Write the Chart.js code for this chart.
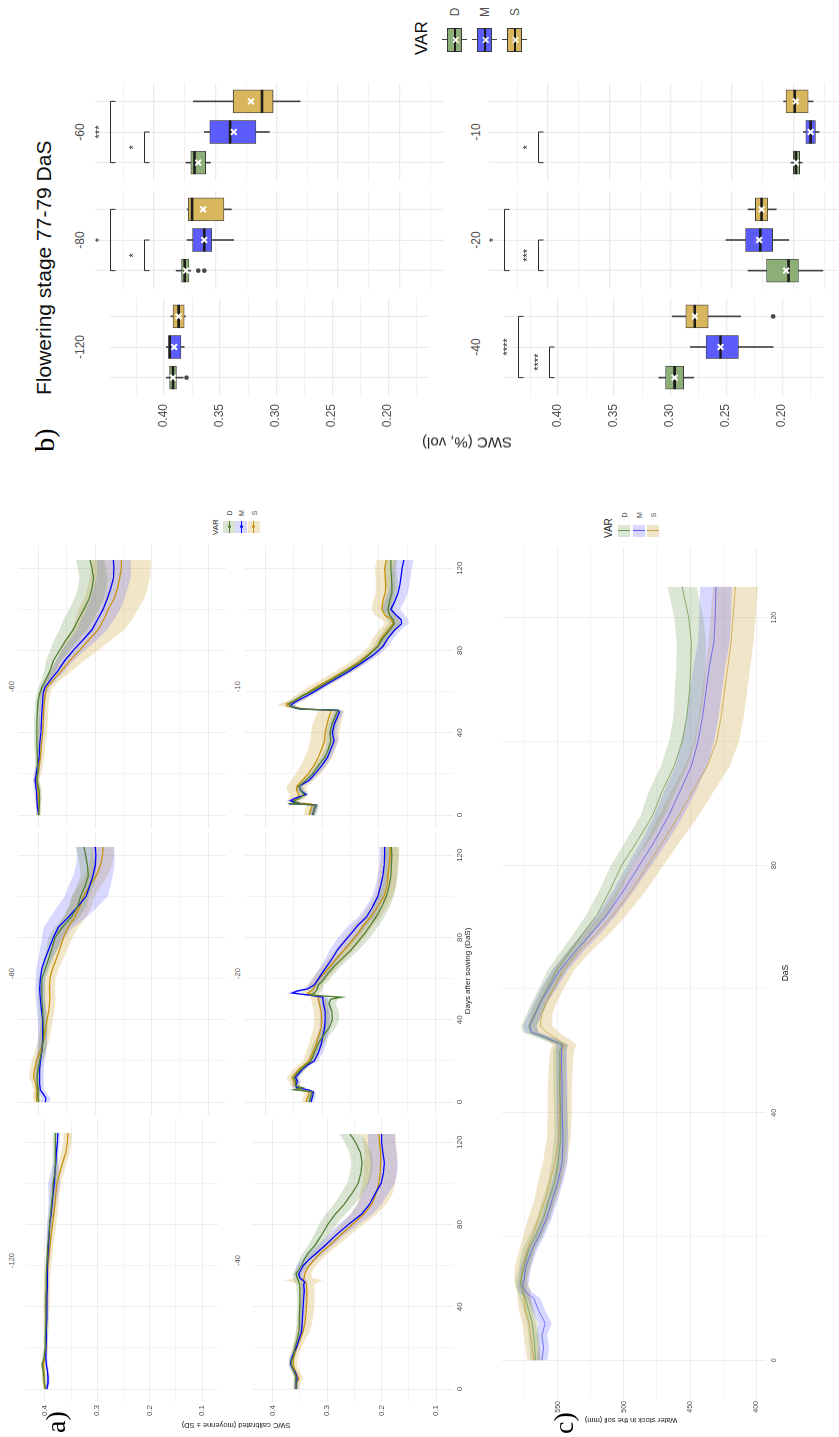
<!DOCTYPE html>
<html>
<head>
<meta charset="utf-8">
<title>Soil water content</title>
<script src="https://cdn.jsdelivr.net/npm/chart.js@4.4.1/dist/chart.umd.min.js"></script>
<style>
  html, body { margin: 0; padding: 0; background: #fff; }
  body { width: 839px; height: 1437px; overflow: hidden; position: relative; font-family: "Liberation Sans", Arial, sans-serif; }
  /* the figure is laid out landscape and turned a quarter turn */
  #fig { position: absolute; left: 0; top: 0; width: 1437px; height: 839px; transform-origin: 0 0; transform: translate(0, 1437px) rotate(-90deg); }
  #fig canvas, #fig .t, #fig .k { position: absolute; }
  .t { white-space: nowrap; line-height: 1; color: #4d4d4d; }
</style>
</head>
<body>
<div id="fig"></div>
<script>
// ---------- a) SWC time series, one panel per sowing offset ----------
const varNames = ['D', 'M', 'S'];
const dayTicks = [0, 20, 40, 60, 80, 100, 120];
const swcTicks = [0.1, 0.15, 0.2, 0.25, 0.3, 0.35, 0.4];

const days120 = [0, 3, 6, 9, 12, 15, 20, 25, 30, 35, 40, 45, 50, 55, 60, 65, 70, 75, 80, 85, 90, 95, 100, 105, 110, 115, 120, 124.5];
const swcD120 = [0.399, 0.401, 0.402, 0.403, 0.405, 0.402, 0.399, 0.399, 0.398, 0.398, 0.398, 0.398, 0.397, 0.397, 0.396, 0.395, 0.394, 0.392, 0.391, 0.389, 0.387, 0.385, 0.384, 0.381, 0.380, 0.380, 0.380, 0.380];
const swcM120 = [0.396, 0.394, 0.394, 0.395, 0.397, 0.398, 0.398, 0.397, 0.397, 0.396, 0.396, 0.396, 0.395, 0.395, 0.395, 0.394, 0.393, 0.392, 0.391, 0.388, 0.386, 0.384, 0.382, 0.381, 0.379, 0.378, 0.376, 0.375];
const swcS120 = [0.399, 0.401, 0.401, 0.402, 0.403, 0.400, 0.398, 0.398, 0.397, 0.397, 0.397, 0.396, 0.396, 0.395, 0.394, 0.392, 0.390, 0.388, 0.385, 0.383, 0.381, 0.379, 0.377, 0.372, 0.366, 0.360, 0.357, 0.356];
const sdD120 = [0.003, 0.003, 0.003, 0.003, 0.003, 0.003, 0.003, 0.003, 0.003, 0.003, 0.003, 0.003, 0.003, 0.003, 0.003, 0.003, 0.003, 0.004, 0.004, 0.004, 0.004, 0.005, 0.005, 0.005, 0.005, 0.005, 0.005, 0.005];
const sdM120 = [0.003, 0.003, 0.003, 0.003, 0.003, 0.003, 0.003, 0.003, 0.003, 0.003, 0.003, 0.003, 0.003, 0.003, 0.003, 0.004, 0.004, 0.005, 0.005, 0.006, 0.007, 0.009, 0.012, 0.008, 0.005, 0.004, 0.004, 0.004];
const sdS120 = [0.004, 0.004, 0.004, 0.004, 0.004, 0.004, 0.004, 0.004, 0.005, 0.005, 0.006, 0.006, 0.006, 0.006, 0.006, 0.006, 0.006, 0.007, 0.007, 0.007, 0.007, 0.007, 0.007, 0.008, 0.008, 0.008, 0.008, 0.008];

const days80 = [0, 2, 4, 6, 9, 12, 16, 20, 25, 30, 35, 40, 45, 50, 55, 60, 65, 70, 75, 80, 85, 90, 95, 100, 105, 110, 115, 120, 124];
const swcD80 = [0.400, 0.401, 0.401, 0.401, 0.402, 0.403, 0.401, 0.398, 0.394, 0.392, 0.391, 0.392, 0.393, 0.394, 0.394, 0.394, 0.388, 0.382, 0.376, 0.371, 0.358, 0.342, 0.331, 0.326, 0.318, 0.312, 0.314, 0.317, 0.320];
const swcM80 = [0.388, 0.387, 0.392, 0.397, 0.398, 0.398, 0.398, 0.397, 0.394, 0.393, 0.393, 0.393, 0.395, 0.397, 0.398, 0.397, 0.394, 0.388, 0.381, 0.374, 0.365, 0.347, 0.331, 0.316, 0.310, 0.304, 0.300, 0.299, 0.300];
const swcS80 = [0.403, 0.404, 0.404, 0.403, 0.405, 0.409, 0.407, 0.404, 0.397, 0.391, 0.388, 0.385, 0.382, 0.380, 0.381, 0.380, 0.375, 0.368, 0.362, 0.356, 0.348, 0.336, 0.327, 0.321, 0.310, 0.298, 0.291, 0.287, 0.286];
const sdD80 = [0.004, 0.004, 0.004, 0.004, 0.004, 0.005, 0.005, 0.006, 0.007, 0.007, 0.007, 0.007, 0.006, 0.006, 0.006, 0.006, 0.007, 0.008, 0.010, 0.012, 0.013, 0.014, 0.015, 0.015, 0.015, 0.014, 0.014, 0.014, 0.014];
const sdM80 = [0.008, 0.008, 0.007, 0.007, 0.007, 0.007, 0.007, 0.008, 0.008, 0.008, 0.008, 0.008, 0.008, 0.008, 0.008, 0.008, 0.010, 0.012, 0.016, 0.020, 0.026, 0.032, 0.036, 0.038, 0.037, 0.035, 0.034, 0.033, 0.033];
const sdS80 = [0.006, 0.006, 0.006, 0.006, 0.007, 0.008, 0.008, 0.008, 0.009, 0.010, 0.010, 0.010, 0.010, 0.010, 0.010, 0.010, 0.011, 0.012, 0.014, 0.016, 0.018, 0.020, 0.020, 0.020, 0.020, 0.020, 0.020, 0.020, 0.020];

const days60 = [0, 4, 8, 12, 17, 22, 28, 34, 40, 45, 50, 55, 59, 62, 66, 70, 75, 80, 85, 90, 95, 100, 105, 110, 115, 120, 124];
const swcD60 = [0.400, 0.399, 0.398, 0.399, 0.403, 0.401, 0.402, 0.403, 0.403, 0.403, 0.402, 0.401, 0.398, 0.394, 0.387, 0.380, 0.374, 0.363, 0.352, 0.339, 0.330, 0.320, 0.311, 0.306, 0.303, 0.306, 0.309];
const swcM60 = [0.400, 0.402, 0.403, 0.404, 0.406, 0.403, 0.399, 0.398, 0.396, 0.395, 0.394, 0.393, 0.392, 0.389, 0.378, 0.366, 0.354, 0.339, 0.322, 0.306, 0.296, 0.286, 0.279, 0.273, 0.268, 0.267, 0.268];
const swcS60 = [0.400, 0.400, 0.401, 0.401, 0.404, 0.400, 0.397, 0.395, 0.393, 0.392, 0.391, 0.390, 0.388, 0.386, 0.373, 0.360, 0.345, 0.328, 0.312, 0.295, 0.285, 0.277, 0.267, 0.261, 0.257, 0.254, 0.254];
const sdD60 = [0.003, 0.003, 0.003, 0.004, 0.004, 0.004, 0.004, 0.005, 0.005, 0.005, 0.005, 0.005, 0.005, 0.006, 0.008, 0.010, 0.013, 0.017, 0.021, 0.024, 0.026, 0.026, 0.026, 0.025, 0.025, 0.025, 0.025];
const sdM60 = [0.003, 0.003, 0.003, 0.004, 0.004, 0.004, 0.004, 0.004, 0.005, 0.005, 0.005, 0.005, 0.006, 0.008, 0.010, 0.012, 0.015, 0.020, 0.024, 0.027, 0.029, 0.030, 0.030, 0.030, 0.030, 0.030, 0.030];
const sdS60 = [0.004, 0.004, 0.005, 0.005, 0.005, 0.006, 0.007, 0.007, 0.008, 0.008, 0.008, 0.008, 0.009, 0.010, 0.013, 0.018, 0.025, 0.033, 0.040, 0.046, 0.050, 0.052, 0.053, 0.053, 0.053, 0.052, 0.052];

const days40 = [0, 3, 5, 6, 8, 10, 12, 14, 16, 20, 24, 28, 32, 36, 40, 44, 48, 51, 52, 53, 54, 56, 58, 60, 63, 66, 70, 75, 80, 85, 90, 95, 100, 105, 110, 115, 120, 124];
const swcD40 = [0.357, 0.357, 0.358, 0.357, 0.360, 0.363, 0.366, 0.365, 0.362, 0.359, 0.355, 0.352, 0.351, 0.351, 0.350, 0.350, 0.350, 0.351, 0.352, 0.353, 0.355, 0.357, 0.352, 0.347, 0.342, 0.335, 0.322, 0.310, 0.299, 0.285, 0.268, 0.255, 0.243, 0.238, 0.236, 0.239, 0.248, 0.258];
const swcM40 = [0.357, 0.357, 0.355, 0.356, 0.358, 0.363, 0.367, 0.366, 0.364, 0.357, 0.352, 0.347, 0.346, 0.345, 0.344, 0.343, 0.342, 0.343, 0.341, 0.345, 0.350, 0.352, 0.348, 0.344, 0.333, 0.320, 0.303, 0.283, 0.261, 0.237, 0.222, 0.212, 0.201, 0.197, 0.195, 0.198, 0.200, 0.200];
const swcS40 = [0.357, 0.356, 0.352, 0.353, 0.357, 0.360, 0.362, 0.362, 0.361, 0.356, 0.350, 0.344, 0.341, 0.339, 0.338, 0.337, 0.337, 0.338, 0.340, 0.344, 0.342, 0.341, 0.338, 0.333, 0.323, 0.313, 0.295, 0.275, 0.254, 0.233, 0.218, 0.210, 0.205, 0.203, 0.202, 0.202, 0.204, 0.205];
const sdD40 = [0.004, 0.004, 0.004, 0.004, 0.004, 0.004, 0.004, 0.004, 0.004, 0.004, 0.005, 0.005, 0.005, 0.005, 0.005, 0.005, 0.006, 0.006, 0.008, 0.008, 0.008, 0.007, 0.007, 0.008, 0.009, 0.010, 0.012, 0.014, 0.016, 0.018, 0.019, 0.020, 0.020, 0.020, 0.020, 0.020, 0.020, 0.020];
const sdM40 = [0.004, 0.004, 0.004, 0.004, 0.004, 0.004, 0.004, 0.004, 0.004, 0.004, 0.004, 0.004, 0.005, 0.005, 0.005, 0.005, 0.005, 0.006, 0.006, 0.008, 0.008, 0.008, 0.010, 0.012, 0.013, 0.014, 0.014, 0.015, 0.018, 0.020, 0.022, 0.024, 0.025, 0.025, 0.025, 0.025, 0.025, 0.025];
const sdS40 = [0.006, 0.006, 0.008, 0.008, 0.007, 0.007, 0.007, 0.007, 0.007, 0.008, 0.010, 0.012, 0.013, 0.014, 0.014, 0.014, 0.014, 0.014, 0.025, 0.035, 0.015, 0.012, 0.012, 0.012, 0.013, 0.014, 0.016, 0.018, 0.020, 0.024, 0.027, 0.030, 0.030, 0.030, 0.030, 0.030, 0.030, 0.030];

const days20 = [0, 3, 5, 6, 7, 8, 10, 12, 14, 16, 18, 20, 24, 28, 32, 36, 40, 44, 48, 50, 51, 52, 53, 54, 55, 57, 59, 62, 66, 70, 74, 78, 82, 86, 90, 95, 100, 105, 110, 115, 120, 124];
const swcD20 = [0.323, 0.320, 0.318, 0.350, 0.335, 0.347, 0.347, 0.350, 0.344, 0.337, 0.329, 0.320, 0.314, 0.308, 0.299, 0.288, 0.282, 0.283, 0.288, 0.285, 0.267, 0.320, 0.314, 0.311, 0.309, 0.307, 0.299, 0.291, 0.279, 0.264, 0.249, 0.237, 0.225, 0.215, 0.205, 0.195, 0.187, 0.182, 0.179, 0.178, 0.177, 0.178];
const swcM20 = [0.320, 0.317, 0.316, 0.325, 0.345, 0.347, 0.344, 0.347, 0.341, 0.335, 0.326, 0.314, 0.307, 0.302, 0.299, 0.296, 0.295, 0.295, 0.298, 0.299, 0.299, 0.323, 0.353, 0.344, 0.326, 0.314, 0.309, 0.302, 0.292, 0.282, 0.273, 0.261, 0.249, 0.237, 0.222, 0.211, 0.202, 0.197, 0.193, 0.191, 0.190, 0.190];
const swcS20 = [0.329, 0.325, 0.323, 0.340, 0.345, 0.347, 0.350, 0.353, 0.347, 0.341, 0.332, 0.323, 0.317, 0.311, 0.307, 0.302, 0.301, 0.302, 0.305, 0.307, 0.307, 0.314, 0.326, 0.320, 0.315, 0.313, 0.309, 0.299, 0.286, 0.274, 0.261, 0.249, 0.237, 0.227, 0.214, 0.202, 0.191, 0.186, 0.184, 0.182, 0.180, 0.180];
const sdD20 = [0.005, 0.005, 0.005, 0.006, 0.006, 0.006, 0.006, 0.006, 0.006, 0.006, 0.006, 0.007, 0.008, 0.009, 0.010, 0.011, 0.012, 0.012, 0.012, 0.012, 0.012, 0.012, 0.010, 0.010, 0.010, 0.010, 0.010, 0.011, 0.012, 0.013, 0.014, 0.015, 0.015, 0.015, 0.015, 0.014, 0.013, 0.012, 0.012, 0.012, 0.012, 0.012];
const sdM20 = [0.005, 0.005, 0.005, 0.006, 0.006, 0.006, 0.006, 0.006, 0.006, 0.006, 0.006, 0.007, 0.008, 0.009, 0.009, 0.009, 0.009, 0.009, 0.009, 0.009, 0.009, 0.010, 0.010, 0.010, 0.010, 0.010, 0.010, 0.010, 0.011, 0.012, 0.014, 0.016, 0.017, 0.016, 0.014, 0.012, 0.010, 0.009, 0.009, 0.009, 0.009, 0.009];
const sdS20 = [0.008, 0.008, 0.008, 0.008, 0.008, 0.008, 0.009, 0.010, 0.010, 0.010, 0.010, 0.011, 0.012, 0.013, 0.013, 0.013, 0.013, 0.013, 0.013, 0.013, 0.013, 0.013, 0.012, 0.012, 0.012, 0.012, 0.012, 0.013, 0.014, 0.015, 0.016, 0.017, 0.017, 0.017, 0.017, 0.016, 0.016, 0.016, 0.016, 0.016, 0.016, 0.016];

const days10 = [0, 3, 5, 5.5, 6, 7, 8, 10, 12, 14, 17, 20, 24, 28, 32, 36, 40, 44, 48, 50, 51, 51.5, 52, 53, 54, 56, 58, 60, 63, 66, 70, 74, 78, 82, 86, 90, 93, 95, 97, 100, 104, 108, 112, 116, 120, 124];
const swcD10 = [0.317, 0.314, 0.311, 0.359, 0.344, 0.350, 0.341, 0.332, 0.338, 0.341, 0.329, 0.317, 0.307, 0.296, 0.289, 0.285, 0.286, 0.283, 0.277, 0.274, 0.272, 0.338, 0.344, 0.356, 0.359, 0.347, 0.335, 0.320, 0.301, 0.282, 0.258, 0.234, 0.217, 0.202, 0.193, 0.181, 0.173, 0.175, 0.181, 0.184, 0.181, 0.177, 0.177, 0.178, 0.179, 0.179];
const swcM10 = [0.317, 0.314, 0.311, 0.359, 0.344, 0.356, 0.350, 0.329, 0.338, 0.341, 0.323, 0.313, 0.301, 0.291, 0.285, 0.279, 0.282, 0.279, 0.273, 0.270, 0.272, 0.338, 0.347, 0.356, 0.353, 0.341, 0.327, 0.314, 0.296, 0.277, 0.252, 0.230, 0.209, 0.193, 0.184, 0.172, 0.160, 0.161, 0.169, 0.179, 0.172, 0.166, 0.163, 0.161, 0.159, 0.156];
const swcS10 = [0.323, 0.320, 0.317, 0.320, 0.350, 0.350, 0.345, 0.341, 0.345, 0.345, 0.335, 0.325, 0.315, 0.307, 0.301, 0.296, 0.295, 0.292, 0.288, 0.285, 0.284, 0.332, 0.341, 0.362, 0.363, 0.344, 0.335, 0.323, 0.306, 0.286, 0.261, 0.238, 0.219, 0.203, 0.196, 0.184, 0.175, 0.178, 0.189, 0.195, 0.193, 0.189, 0.188, 0.189, 0.190, 0.187];
const sdD10 = [0.006, 0.006, 0.006, 0.006, 0.006, 0.006, 0.006, 0.006, 0.006, 0.006, 0.006, 0.007, 0.007, 0.007, 0.007, 0.007, 0.007, 0.007, 0.007, 0.007, 0.007, 0.008, 0.008, 0.008, 0.008, 0.008, 0.008, 0.008, 0.008, 0.008, 0.008, 0.008, 0.008, 0.008, 0.009, 0.010, 0.010, 0.010, 0.010, 0.010, 0.010, 0.010, 0.010, 0.010, 0.010, 0.010];
const sdM10 = [0.005, 0.005, 0.005, 0.006, 0.006, 0.006, 0.006, 0.006, 0.006, 0.006, 0.006, 0.007, 0.007, 0.007, 0.007, 0.007, 0.007, 0.007, 0.007, 0.007, 0.007, 0.008, 0.008, 0.008, 0.008, 0.008, 0.008, 0.008, 0.008, 0.008, 0.008, 0.009, 0.010, 0.010, 0.010, 0.011, 0.012, 0.013, 0.015, 0.016, 0.017, 0.017, 0.017, 0.017, 0.017, 0.017];
const sdS10 = [0.010, 0.010, 0.010, 0.010, 0.010, 0.012, 0.014, 0.016, 0.017, 0.018, 0.020, 0.022, 0.023, 0.024, 0.024, 0.025, 0.025, 0.025, 0.024, 0.023, 0.022, 0.016, 0.015, 0.014, 0.014, 0.014, 0.014, 0.014, 0.015, 0.015, 0.015, 0.015, 0.015, 0.015, 0.015, 0.015, 0.015, 0.016, 0.018, 0.018, 0.017, 0.017, 0.017, 0.017, 0.017, 0.017];

// ---------- b) SWC at flowering, boxplot statistics (D, M, S per panel) ----------
const boxFacets = ['-120', '-80', '-60', '-40', '-20', '-10'];
const boxLow  = [[0.383, 0.382, 0.381], [0.370, 0.335, 0.337], [0.354, 0.306, 0.281], [0.279, 0.208, 0.237], [0.176, 0.204, 0.214], [0.193, 0.179, 0.184]];
const boxQ1   = [[0.389, 0.385, 0.382], [0.3715, 0.353, 0.343], [0.358, 0.317, 0.303], [0.288, 0.239, 0.266], [0.196, 0.217, 0.221], [0.195, 0.182, 0.188]];
const boxMed  = [[0.392, 0.395, 0.387], [0.375, 0.359, 0.369], [0.367, 0.338, 0.312], [0.296, 0.255, 0.278], [0.204, 0.227, 0.226], [0.198, 0.186, 0.199]];
const boxQ3   = [[0.395, 0.396, 0.392], [0.3775, 0.3685, 0.372], [0.370, 0.3545, 0.3355], [0.304, 0.268, 0.286], [0.222, 0.239, 0.231], [0.200, 0.190, 0.206]];
const boxHigh = [[0.398, 0.398, 0.394], [0.382, 0.373, 0.373], [0.374, 0.359, 0.368], [0.310, 0.282, 0.298], [0.237, 0.255, 0.237], [0.202, 0.192, 0.208]];
const boxMean = [[0.392, 0.391, 0.387], [0.374, 0.359, 0.360], [0.364, 0.335, 0.321], [0.296, 0.255, 0.278], [0.206, 0.228, 0.226], [0.198, 0.186, 0.198]];
const boxOut  = [[[0.380], [], []], [[0.364, 0.359], [], []], [[], [], []], [[], [], [0.208]], [[], [], []], [[], [], []]];
const sigDM = ['', '*', '*', '****', '***', '*'];
const sigDS = ['', '*', '***', '****', '*', ''];
const boxTicks = [0.175, 0.2, 0.225, 0.25, 0.275, 0.3, 0.325, 0.35, 0.375, 0.4, 0.425];

// ---------- c) water stock in the soil (mm) ----------
const daysC = [0, 2, 4, 6, 8, 10, 11, 12, 13, 15, 18, 20, 23, 26, 29, 32, 36, 40, 44, 48, 50, 51, 52, 53, 54, 56, 58, 60, 63, 66, 69, 72, 76, 80, 84, 88, 92, 96, 100, 104, 108, 112, 116, 120, 125];
const stockD = [566.9, 567.4, 568.1, 569.3, 571.8, 574.3, 576.7, 577.9, 577.9, 575.5, 571.8, 566.9, 560.7, 556.6, 552.1, 549.7, 547.7, 547.7, 548.5, 548.5, 548.5, 546.7, 558.3, 570.6, 571.8, 567.4, 563.2, 558.3, 550.9, 541.0, 531.0, 520.2, 510.5, 501.7, 489.5, 478.4, 471.0, 462.0, 456.0, 452.5, 450.5, 449.5, 449.0, 451.0, 456.0];
const stockM = [562.0, 560.7, 562.0, 559.5, 564.4, 568.1, 574.3, 576.7, 575.5, 574.3, 569.3, 564.4, 558.3, 554.1, 549.7, 546.7, 546.0, 546.7, 546.7, 547.2, 547.2, 546.7, 557.1, 569.3, 571.3, 566.9, 562.5, 557.1, 548.5, 537.0, 524.5, 512.8, 500.0, 488.2, 476.5, 466.1, 457.5, 449.0, 444.0, 440.5, 438.0, 435.5, 432.0, 431.0, 430.4];
const stockS = [568.1, 569.3, 570.6, 571.8, 574.3, 575.5, 575.5, 576.7, 577.9, 576.7, 573.0, 569.3, 564.4, 559.5, 555.8, 552.1, 549.2, 548.5, 548.5, 547.7, 546.7, 544.8, 550.9, 558.3, 563.2, 562.0, 558.3, 553.4, 546.0, 534.0, 520.5, 507.9, 494.0, 482.1, 470.0, 458.7, 448.0, 437.0, 430.0, 426.5, 424.0, 421.5, 419.0, 417.5, 415.7];
const sdStockD = [4, 4, 4, 4, 4, 4, 4, 4, 4, 4, 5, 5, 5, 5, 5, 5, 5, 5, 5, 5, 5, 5, 6, 6, 6, 6, 6, 6, 7, 7, 7, 8, 8, 8, 9, 9, 10, 10, 10, 10, 11, 11, 11, 11, 11];
const sdStockM = [4, 4, 4, 5, 5, 5, 5, 4, 4, 4, 4, 4, 4, 4, 4, 4, 4, 4, 4, 4, 4, 4, 5, 5, 5, 5, 5, 6, 6, 6, 7, 7, 8, 9, 10, 11, 12, 12, 12, 12, 12, 12, 12, 12, 12];
const sdStockS = [5, 5, 5, 5, 5, 5, 5, 5, 5, 6, 6, 7, 8, 8, 9, 9, 9, 9, 9, 9, 9, 9, 9, 9, 9, 8, 8, 8, 8, 9, 10, 10, 11, 12, 13, 15, 16, 17, 17, 17, 17, 17, 17, 17, 17];
const stockTicks = [400, 425, 450, 475, 500, 525, 550, 575];

// ---------- helpers ----------
const fig = document.getElementById('fig');
const SANS = '"Liberation Sans", Arial, sans-serif';
const SERIF = '"Liberation Serif", "Times New Roman", serif';
const GRID = '#ebebeb';
Chart.defaults.font.family = SANS;

function text(str, x, y, o) {
  o = o || {};
  const d = document.createElement('div');
  d.className = 't';
  d.textContent = str;
  d.style.left = x + 'px';
  d.style.top = y + 'px';
  d.style.fontSize = (o.size || 8) + 'px';
  if (o.color) d.style.color = o.color;
  if (o.font) d.style.fontFamily = o.font;
  if (o.weight) d.style.fontWeight = o.weight;
  const ax = o.anchor === 'start' ? '0' : (o.anchor === 'end' ? '-100%' : '-50%');
  d.style.transform = 'translate(' + ax + ', -50%)' + (o.rot ? ' rotate(' + o.rot + 'deg)' : '');
  fig.appendChild(d);
  return d;
}

function block(x, y, w, h, css) {
  const d = document.createElement('div');
  d.className = 'k';
  Object.assign(d.style, { left: x + 'px', top: y + 'px', width: w + 'px', height: h + 'px', boxSizing: 'border-box' }, css || {});
  fig.appendChild(d);
  return d;
}

function canvas(x, y, w, h) {
  const c = document.createElement('canvas');
  c.width = w; c.height = h;
  c.style.left = x + 'px'; c.style.top = y + 'px';
  c.style.width = w + 'px'; c.style.height = h + 'px';
  fig.appendChild(c);
  return c;
}

function near(v, step) { return Math.abs(v / step - Math.round(v / step)) < 1e-6; }

function axes(o) {
  return {
    x: {
      type: 'linear', min: o.xr[0], max: o.xr[1], offset: false,
      afterBuildTicks: s => { s.ticks = o.xTicks.map(v => ({ value: v })); },
      afterFit: s => { s.height = o.bottom; },
      grid: { color: GRID, offset: false, drawTicks: false,
              lineWidth: c => (c.tick && near(c.tick.value, o.xMajor)) ? o.gw : o.gw * 0.6 },
      border: { display: false },
      ticks: { display: o.bottom > 0, autoSkip: false, maxRotation: 0, padding: o.xPad, color: '#4d4d4d',
               font: { size: o.fs }, callback: v => near(v, o.xMajor) ? String(v) : '' }
    },
    y: {
      min: o.yr[0], max: o.yr[1],
      afterBuildTicks: s => { s.ticks = o.yTicks.map(v => ({ value: v })); },
      afterFit: s => { s.width = o.left; },
      grid: { color: GRID, drawTicks: false,
              lineWidth: c => (c.tick && near(c.tick.value, o.yMajor)) ? o.gw : o.gw * 0.6 },
      border: { display: false },
      ticks: { display: o.left > 0, autoSkip: false, padding: o.yPad, color: '#4d4d4d',
               font: { size: o.fs }, callback: v => near(v, o.yMajor) ? o.yFmt(v) : '' }
    }
  };
}

const baseOpts = {
  responsive: false, animation: false, devicePixelRatio: 1, events: [],
  layout: { padding: 0, autoPadding: false },
  plugins: { legend: { display: false }, tooltip: { enabled: false }, title: { display: false } }
};

// mean line with a +/- SD ribbon for D, M and S
function ribbonChart(rect, days, means, sds, o) {
  const cv = canvas(rect[0] - o.left, rect[1], rect[2] + o.left, rect[3] + o.bottom);
  const datasets = [];
  means.forEach((m, i) => {
    datasets.push({ data: days.map((d, j) => ({ x: d, y: m[j] + sds[i][j] })), fill: '+1',
      backgroundColor: o.bands[i], borderColor: 'transparent', borderWidth: 0, pointRadius: 0, order: 2 });
    datasets.push({ data: days.map((d, j) => ({ x: d, y: m[j] - sds[i][j] })), fill: false,
      borderColor: 'transparent', borderWidth: 0, pointRadius: 0, order: 2 });
  });
  means.forEach((m, i) => {
    datasets.push({ data: days.map((d, j) => ({ x: d, y: m[j] })), fill: false,
      borderColor: o.lines[i], borderWidth: o.lw, pointRadius: 0, tension: 0, order: 1 });
  });
  new Chart(cv, { type: 'line', data: { datasets }, options: Object.assign({}, baseOpts, { scales: axes(o) }) });
}

// significance brackets drawn over a boxplot panel
const bracketPlugin = {
  id: 'brackets',
  afterDatasetsDraw(chart, args, opts) {
    const { ctx, scales: { x, y } } = chart;
    ctx.save();
    ctx.strokeStyle = '#2a2a2a';
    ctx.fillStyle = '#2a2a2a';
    ctx.lineWidth = 1;
    ctx.font = '11px ' + SANS;
    ctx.textAlign = 'center';
    ctx.textBaseline = 'alphabetic';
    (opts.items || []).forEach(b => {
      const x1 = x.getPixelForValue(b.from), x2 = x.getPixelForValue(b.to);
      const yy = Math.round(y.getPixelForValue(b.level)) + 0.5;
      ctx.beginPath();
      ctx.moveTo(x1, yy + 5); ctx.lineTo(x1, yy); ctx.lineTo(x2, yy); ctx.lineTo(x2, yy + 5);
      ctx.stroke();
      ctx.fillText(b.label, (x1 + x2) / 2, yy - 8);
    });
    ctx.restore();
  }
};

const boxFill = ['rgb(141,174,118)', 'rgb(92,92,252)', 'rgb(216,182,94)'];

function boxChart(rect, f, o) {
  const cv = canvas(rect[0] - o.left, rect[1], rect[2] + o.left, rect[3]);
  const pos = [1, 2, 3];
  const outliers = [];
  pos.forEach((p, i) => boxOut[f][i].forEach(v => outliers.push({ x: p, y: v })));
  const items = [];
  if (sigDS[f]) items.push({ from: 1, to: 3, level: 0.4355, label: sigDS[f] });
  if (sigDM[f]) items.push({ from: 1, to: 2, level: 0.408, label: sigDM[f] });
  const datasets = [
    { type: 'bar', data: pos.map((p, i) => ({ x: p, y: [boxLow[f][i], boxHigh[f][i]] })),
      backgroundColor: '#444', barThickness: 1, grouped: false, order: 5 },
    { type: 'bar', data: pos.map((p, i) => ({ x: p, y: [boxQ1[f][i], boxQ3[f][i]] })),
      backgroundColor: boxFill, borderColor: '#3a3a3a', borderWidth: 0.8, borderSkipped: false,
      barThickness: 23, grouped: false, order: 4 },
    { type: 'line', showLine: false, data: pos.map((p, i) => ({ x: p, y: boxMed[f][i] })),
      pointStyle: 'line', pointRadius: 11.5, pointBorderWidth: 2.6, pointBorderColor: '#1c1c1c', order: 3 },
    { type: 'line', showLine: false, data: pos.map((p, i) => ({ x: p, y: boxMean[f][i] })),
      pointStyle: 'crossRot', pointRadius: 4, pointBorderWidth: 2, pointBorderColor: '#ffffff', order: 2 },
    { type: 'line', showLine: false, data: outliers,
      pointStyle: 'circle', pointRadius: 2.3, pointBackgroundColor: '#474747', pointBorderWidth: 0, order: 1 }
  ];
  const opts = Object.assign({}, baseOpts, {
    scales: axes(o),
    plugins: Object.assign({}, baseOpts.plugins, { brackets: { items } })
  });
  new Chart(cv, { type: 'bar', data: { datasets }, options: opts, plugins: [bracketPlugin] });
}

// ---------- panel a ----------
const aCols = [35, 322, 609], aRows = [18, 245], aW = 283, aH = 208;
const aSeries = [
  ['-120', days120, [swcD120, swcM120, swcS120], [sdD120, sdM120, sdS120]],
  ['-80', days80, [swcD80, swcM80, swcS80], [sdD80, sdM80, sdS80]],
  ['-60', days60, [swcD60, swcM60, swcS60], [sdD60, sdM60, sdS60]],
  ['-40', days40, [swcD40, swcM40, swcS40], [sdD40, sdM40, sdS40]],
  ['-20', days20, [swcD20, swcM20, swcS20], [sdD20, sdM20, sdS20]],
  ['-10', days10, [swcD10, swcM10, swcS10], [sdD10, sdM10, sdS10]]
];
const aLines = ['#4f7d33', '#0000ff', '#c8930c'];
const aBands = ['rgba(112,150,84,0.26)', 'rgba(95,95,255,0.24)', 'rgba(214,178,88,0.32)'];

aSeries.forEach((s, k) => {
  const r = Math.floor(k / 3), c = k % 3;
  const rect = [aCols[c], aRows[r], aW, aH];
  ribbonChart(rect, s[1], s[2], s[3], {
    xr: [-6.25, 131.25], yr: [0.0693, 0.4363], xTicks: dayTicks, yTicks: swcTicks,
    xMajor: 40, yMajor: 0.1, yFmt: v => v.toFixed(1), fs: 8, gw: 0.9,
    left: c === 0 ? 22 : 0, bottom: r === 1 ? 14 : 0, xPad: 2, yPad: 3,
    lines: aLines, bands: aBands, lw: 1.3
  });
  text(s[0], aCols[c] + aW / 2, r === 0 ? 12 : 238, { size: 7.5, color: '#4d4d4d' });
});
text('a)', 15, 56, { size: 28, font: SERIF, color: '#000' });
text('SWC calibrated (moyenne \u00b1 SD)', 12, 236, { size: 7.5, rot: -90, color: '#222' });
text('Days after sowing (DaS)', 466, 468, { size: 8, color: '#222' });
text('VAR', 902, 216, { size: 8, anchor: 'start', color: '#222' });
varNames.forEach((v, i) => {
  const y = 223 + i * 12.3;
  block(904, y, 12, 12, { background: aBands[i] });
  block(904, y + 5.5, 12, 1.2, { background: aLines[i] });
  block(909, y + 4.5, 3, 3, { background: aLines[i], borderRadius: '50%' });
  text(v, 924, y + 6, { size: 7, color: '#4d4d4d' });
});

// ---------- panel b ----------
const bCols = [1041, 1148, 1256], bRows = [95, 489], bW = 98, bH = 349;
boxFacets.forEach((name, f) => {
  const r = Math.floor(f / 3), c = f % 3;
  boxChart([bCols[c], bRows[r], bW, bH], f, {
    xr: [0.4, 3.6], yr: [0.1637, 0.4481], xTicks: [1, 2, 3], yTicks: boxTicks,
    xMajor: 1, yMajor: 0.05, yFmt: v => v.toFixed(2), fs: 12, gw: 1.2,
    left: c === 0 ? 50 : 0, bottom: 0, xPad: 0, yPad: 8
  });
  text(name, bCols[c] + bW / 2, r === 0 ? 80 : 476, { size: 12, color: '#4d4d4d' });
});
text('b)', 997, 45, { size: 28, font: SERIF, color: '#000' });
text('Flowering stage 77-79 DaS', 1042, 43, { size: 21, anchor: 'start', color: '#111' });
text('SWC (%, vol)', 994, 467, { size: 15, rot: -90, color: '#222' });
text('VAR', 1382, 421, { size: 17, anchor: 'start', color: '#111' });
varNames.forEach((v, i) => {
  const y = 447 + i * 30;
  block(1396.5, y - 5, 1, 25, { background: '#444' });
  block(1385, y, 24, 15, { background: boxFill[i], border: '0.8px solid #3a3a3a' });
  block(1385, y + 6.5, 24, 2, { background: '#1c1c1c' });
  text('\u00d7', 1397, y + 7.5, { size: 13, color: '#fff', weight: 'bold' });
  text(v, 1425, y + 7.5, { size: 12, color: '#4d4d4d' });
});

// ---------- panel c ----------
const cLines = ['#6e9b52', '#5b5bea', '#c9a243'];
const cBands = ['rgba(125,165,100,0.28)', 'rgba(100,100,255,0.26)', 'rgba(214,178,96,0.34)'];
ribbonChart([38, 496, 851, 270], daysC, [stockD, stockM, stockS], [sdStockD, sdStockM, sdStockS], {
  xr: [-6.25, 131.25], yr: [392.6, 592], xTicks: dayTicks, yTicks: stockTicks,
  xMajor: 40, yMajor: 50, yFmt: v => String(v), fs: 7, gw: 0.9,
  left: 24, bottom: 14, xPad: 4, yPad: 2,
  lines: cLines, bands: cBands, lw: 0.8
});
text('c)', 14, 564, { size: 28, font: SERIF, color: '#000' });
text('Water stock in the soil (mm)', 17, 631, { size: 7.5, rot: -90, color: '#222' });
text('DaS', 464, 785, { size: 8.5, color: '#111' });
text('VAR', 899, 609, { size: 10, anchor: 'start', color: '#222' });
varNames.forEach((v, i) => {
  const y = 618 + i * 14.5;
  block(900, y, 12, 12, { background: cBands[i] });
  block(905.5, y, 1, 12, { background: cLines[i] });
  text(v, 922, y + 6, { size: 7, color: '#4d4d4d' });
});
</script>
</body>
</html>
